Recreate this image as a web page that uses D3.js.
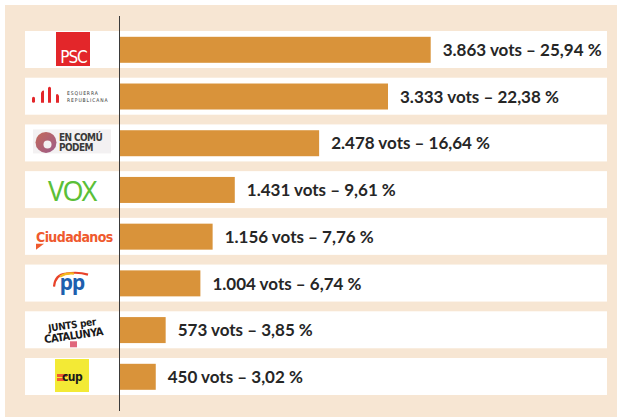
<!DOCTYPE html>
<html>
<head>
<meta charset="utf-8">
<script src="https://cdn.jsdelivr.net/npm/d3@7"></script>
<style>
  html, body { margin: 0; padding: 0; background: #ffffff; }
  svg { display: block; }
  .bar-label { font-family: "Lato", "Open Sans", sans-serif; font-weight: 700; font-size: 17px; fill: #262626; }
</style>
</head>
<body>
<svg id="chart"></svg>
<script>
const parties = ["PSC", "ERC", "En Comú Podem", "Vox", "Ciudadanos", "PP", "Junts per Catalunya", "CUP"];
const votes = [3863, 3333, 2478, 1431, 1156, 1004, 573, 450];
const percents = [25.94, 22.38, 16.64, 9.61, 7.76, 6.74, 3.85, 3.02];

(function votesChart() {
  const width = 619;
  const height = 417;
  const panel = { left: 5, top: 5, right: 617, bottom: 417 };
  const rowLeft = 25;
  const rowRight = 607;
  const axisX = 119.5;

  const rows = parties.map((party, i) => ({ party, votes: votes[i], pct: percents[i] }));

  const locale = d3.formatLocale({ decimal: ",", thousands: ".", grouping: [3], currency: ["", " €"] });
  const fmtVotes = locale.format(",d");
  const fmtPct = locale.format(".2f");

  const svg = d3.select("#chart").attr("width", width).attr("height", height);

  svg.append("rect")
    .attr("x", panel.left).attr("y", panel.top)
    .attr("width", panel.right - panel.left).attr("height", panel.bottom - panel.top)
    .attr("fill", "#f7e6d3");

  const y = d3.scaleBand()
    .domain(parties)
    .range([31, 395])
    .paddingInner(0.208)
    .paddingOuter(0);

  const x = d3.scaleLinear().domain([0, 3863]).range([axisX, 430.7]);

  // white row strips
  svg.append("g")
    .selectAll("rect")
    .data(rows)
    .join("rect")
    .attr("x", rowLeft)
    .attr("y", (d) => y(d.party))
    .attr("width", rowRight - rowLeft)
    .attr("height", y.bandwidth())
    .attr("fill", "#ffffff");

  const barH = 26;
  const barOffset = (y.bandwidth() - barH) / 2 + 0.3;

  svg.append("g")
    .selectAll("rect")
    .data(rows)
    .join("rect")
    .attr("x", x(0))
    .attr("y", (d) => y(d.party) + barOffset)
    .attr("width", (d) => x(d.votes) - x(0))
    .attr("height", barH)
    .attr("fill", "#d9933a");

  svg.append("g")
    .selectAll("text")
    .data(rows)
    .join("text")
    .attr("class", "bar-label")
    .attr("x", (d) => x(d.votes) + 12)
    .attr("y", (d) => y(d.party) + y.bandwidth() / 2 + 6.5)
    .text((d) => `${fmtVotes(d.votes)} vots – ${fmtPct(d.pct)} %`);

  svg.append("line")
    .attr("x1", axisX).attr("x2", axisX)
    .attr("y1", 16).attr("y2", 411)
    .attr("stroke", "#3a3a3a")
    .attr("stroke-width", 1);

  // party logos, drawn roughly inside the left cell
  const logos = svg.append("g");
  const condensed = "'DejaVu Sans Condensed', 'Liberation Sans Narrow', sans-serif";

  const drawLogo = {
    "PSC": (g) => {
      g.append("rect").attr("x", 56).attr("y", 1).attr("width", 34).attr("height", 34).attr("fill", "#e3262a");
      g.append("text").attr("x", 73.5).attr("y", 31.5).attr("text-anchor", "middle")
        .attr("font-family", condensed).attr("font-size", 17).attr("fill", "#fff").attr("letter-spacing", -1)
        .text("PSC");
    },
    "ERC": (g) => {
      const red = "#e3262a";
      g.append("rect").attr("x", 32).attr("y", 19).attr("width", 3).attr("height", 6).attr("rx", 1.5).attr("fill", red);
      g.append("path").attr("d", "M41,25 L41,15 Q42.5,12 44,13 L44,25 Z").attr("fill", red);
      g.append("path").attr("d", "M48,25 L48,10 Q49.5,8 51,10 L51,25 Z").attr("fill", red);
      g.append("path").attr("d", "M56,25 L56,17 Q57.5,15 59,18 L59,25 Z").attr("fill", red);
      g.append("text").attr("x", 67).attr("y", 17.5).attr("font-family", condensed)
        .attr("font-size", 5).attr("fill", "#333").attr("letter-spacing", 0.9).text("ESQUERRA");
      g.append("text").attr("x", 67).attr("y", 24.5).attr("font-family", condensed)
        .attr("font-size", 5).attr("fill", "#333").attr("letter-spacing", 0.9).text("REPUBLICANA");
    },
    "En Comú Podem": (g) => {
      g.append("rect").attr("x", 33).attr("y", 5).attr("width", 78).attr("height", 24).attr("fill", "#f3f1f2");
      const grad = svg.append("defs").append("linearGradient").attr("id", "ecp-grad")
        .attr("x1", 0).attr("y1", 0).attr("x2", 1).attr("y2", 1);
      grad.append("stop").attr("offset", "0%").attr("stop-color", "#c46a5a");
      grad.append("stop").attr("offset", "100%").attr("stop-color", "#9c5a8a");
      g.append("circle").attr("cx", 46).attr("cy", 18).attr("r", 10.5).attr("fill", "url(#ecp-grad)");
      g.append("circle").attr("cx", 47.5).attr("cy", 20).attr("r", 4).attr("fill", "#f3f1f2");
      g.append("text").attr("x", 59).attr("y", 16.5).attr("font-family", condensed).attr("font-weight", 700)
        .attr("font-size", 10).attr("fill", "#3a3a3a").attr("letter-spacing", -0.6).text("EN COMÚ");
      g.append("text").attr("x", 59).attr("y", 26.5).attr("font-family", condensed).attr("font-weight", 700)
        .attr("font-size", 10).attr("fill", "#3a3a3a").attr("letter-spacing", -0.6).text("PODEM");
    },
    "Vox": (g) => {
      g.append("text").attr("x", 72).attr("y", 29.5).attr("text-anchor", "middle")
        .attr("font-family", "'Noto Sans', sans-serif").attr("font-weight", 400)
        .attr("font-size", 27).attr("fill", "#5bbf38").attr("letter-spacing", -1.5).text("VOX");
    },
    "Ciudadanos": (g) => {
      g.append("text").attr("x", 36).attr("y", 24).attr("font-family", condensed).attr("font-weight", 700)
        .attr("font-size", 14).attr("fill", "#ef5a2e").attr("letter-spacing", -0.6).text("Ciudadanos");
      g.append("path").attr("d", "M36,26 L44,26 L36,32 Z").attr("fill", "#ef5a2e");
    },
    "PP": (g) => {
      g.append("path").attr("d", "M54,22 Q55,10 66,9 Q78,7 88,10")
        .attr("fill", "none").attr("stroke", "#e8432a").attr("stroke-width", 2.2);
      g.append("path").attr("d", "M60,12 Q66,8 74,9")
        .attr("fill", "none").attr("stroke", "#f4b81e").attr("stroke-width", 2.2);
      g.append("text").attr("x", 72).attr("y", 25).attr("text-anchor", "middle")
        .attr("font-family", "'Noto Sans', sans-serif").attr("font-weight", 700)
        .attr("font-size", 21).attr("fill", "#1e5fae").attr("letter-spacing", -1).text("pp");
    },
    "Junts per Catalunya": (g) => {
      const t = g.append("g").attr("transform", "translate(73,20) rotate(-8)");
      t.append("text").attr("x", 0).attr("y", -3).attr("text-anchor", "middle").attr("font-family", condensed)
        .attr("font-weight", 700).attr("font-size", 10).attr("fill", "#1a1a1a").attr("letter-spacing", -0.3).text("JUNTS per");
      t.append("text").attr("x", 0).attr("y", 8).attr("text-anchor", "middle").attr("font-family", condensed)
        .attr("font-weight", 700).attr("font-size", 11).attr("fill", "#1a1a1a").attr("letter-spacing", -0.5).text("CATALUNYA");
      g.append("rect").attr("x", 70).attr("y", 30).attr("width", 7).attr("height", 6).attr("fill", "#e0677c");
    },
    "CUP": (g) => {
      g.append("rect").attr("x", 55).attr("y", 1).attr("width", 34).attr("height", 33).attr("fill", "#f3ea35");
      g.append("rect").attr("x", 57).attr("y", 16).attr("width", 10).attr("height", 3).attr("fill", "#ef5a2e");
      g.append("rect").attr("x", 57).attr("y", 20).attr("width", 8).attr("height", 3).attr("fill", "#ef5a2e");
      g.append("text").attr("x", 62).attr("y", 23).attr("font-family", condensed).attr("font-weight", 700)
        .attr("font-size", 12).attr("fill", "#1a1a1a").attr("letter-spacing", -0.6).text("cup");
    },
  };

  rows.forEach((d) => {
    const g = logos.append("g").attr("transform", `translate(0,${y(d.party)})`);
    drawLogo[d.party](g);
  });
})();
</script>
</body>
</html>
